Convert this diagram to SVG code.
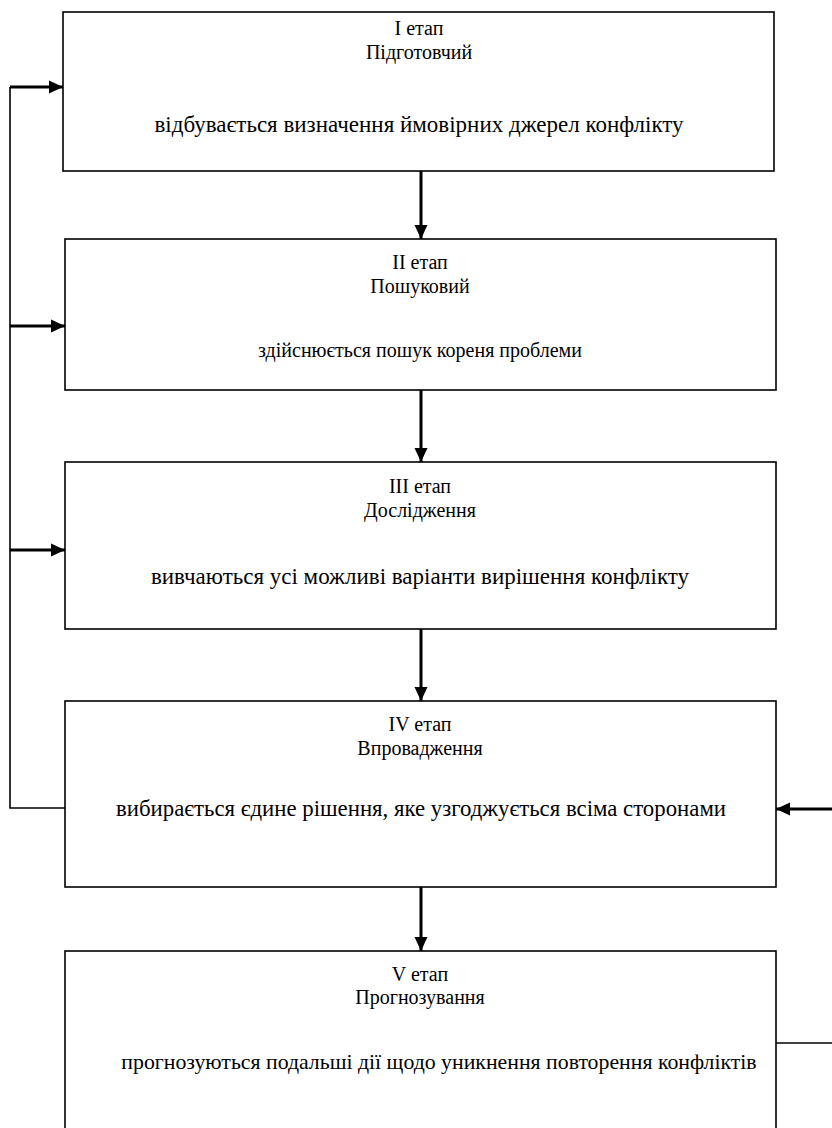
<svg xmlns="http://www.w3.org/2000/svg" width="832" height="1128" viewBox="0 0 832 1128">
  <style>
    .box { fill: #ffffff; stroke: #000000; stroke-width: 1.6; }
    .txt { font-family: 'Liberation Serif', 'DejaVu Serif', serif; font-size: 20px; fill: #000000; text-anchor: middle; }
    .body { font-size: 23px; }
    .arrow { fill: none; stroke: #000000; stroke-width: 3; marker-end: url(#head); }
    .line { fill: none; stroke: #000000; stroke-width: 1.6; }
  </style>
  <defs>
    <marker id="head" markerUnits="userSpaceOnUse" markerWidth="15" markerHeight="15" viewBox="0 0 15 15" refX="14" refY="7.5" orient="auto">
      <path d="M0,1 L14,7.5 L0,14 z" fill="#000000"/>
    </marker>
  </defs>
  <rect width="832" height="1128" fill="#ffffff"/>

  <!-- stage boxes -->
  <g id="stage1">
    <rect class="box" x="63" y="12" width="711" height="159"/>
    <text class="txt" x="419" y="35">I етап</text>
    <text class="txt" x="419" y="59">Підготовчий</text>
    <text class="txt body" x="419" y="132">відбувається визначення ймовірних джерел конфлікту</text>
  </g>
  <g id="stage2">
    <rect class="box" x="65" y="239" width="711" height="151"/>
    <text class="txt" x="420" y="269">II етап</text>
    <text class="txt" x="420" y="293">Пошуковий</text>
    <text class="txt" x="420" y="357">здійснюється пошук кореня проблеми</text>
  </g>
  <g id="stage3">
    <rect class="box" x="65" y="462" width="711" height="167"/>
    <text class="txt" x="420" y="493">III етап</text>
    <text class="txt" x="420" y="517">Дослідження</text>
    <text class="txt body" x="420" y="584">вивчаються усі можливі варіанти вирішення конфлікту</text>
  </g>
  <g id="stage4">
    <rect class="box" x="65" y="701" width="711" height="186"/>
    <text class="txt" x="420" y="731">IV етап</text>
    <text class="txt" x="420" y="755">Впровадження</text>
    <text class="txt" x="421" y="816" style="font-size:22.8px">вибирається єдине рішення, яке узгоджується всіма сторонами</text>
  </g>
  <g id="stage5">
    <rect class="box" x="65" y="951" width="711" height="200"/>
    <text class="txt" x="420" y="981">V етап</text>
    <text class="txt" x="420" y="1004">Прогнозування</text>
    <text class="txt" x="439" y="1069" style="font-size:21.8px">прогнозуються подальші дії щодо уникнення повторення конфліктів</text>
  </g>

  <!-- connectors -->
  <g id="connectors">
    <!-- main flow -->
    <path class="arrow" d="M421,171 V239"/>
    <path class="arrow" d="M421,390 V462"/>
    <path class="arrow" d="M421,629 V701"/>
    <path class="arrow" d="M421,887 V951"/>
    <!-- feedback on the left -->
    <path class="line" d="M65,808 H10 V87"/>
    <path class="arrow" d="M10,87 H63"/>
    <path class="arrow" d="M10,326 H65"/>
    <path class="arrow" d="M10,550 H65"/>
    <!-- feedback on the right -->
    <path class="line" d="M776,1043 H832"/>
    <path class="arrow" d="M832,809 H776"/>
  </g>
</svg>
